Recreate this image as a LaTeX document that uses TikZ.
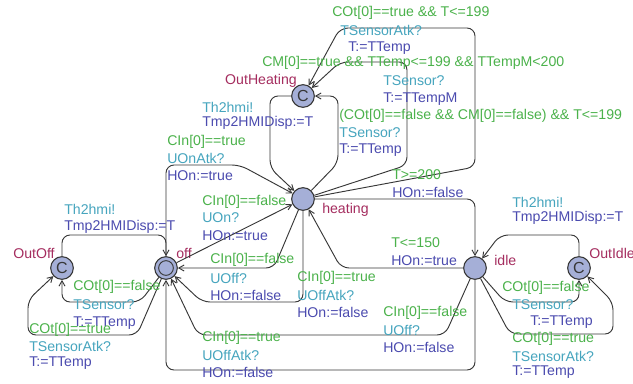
\documentclass[tikz,border=0pt]{standalone}
\usepackage{fontspec}
\setmainfont{Liberation Sans}
\usetikzlibrary{arrows.meta}
\definecolor{guardc}{RGB}{75,178,75}
\definecolor{syncc}{RGB}{70,165,190}
\definecolor{updc}{RGB}{75,75,175}
\definecolor{namec}{RGB}{165,45,95}
\definecolor{locfill}{RGB}{165,175,215}
\definecolor{edgec}{RGB}{55,55,55}
\begin{document}
\begin{tikzpicture}[x=0.75pt,y=-0.75pt,
  every node/.style={font=\fontsize{10.6}{12}\selectfont},
  loc/.style={circle,draw=edgec,fill=locfill,line width=0.8pt,minimum size=17pt,inner sep=0pt},
  comm/.style={loc,font=\fontsize{12}{12}\selectfont,text=edgec},
  guard/.style={anchor=west,inner sep=0pt,text=guardc},
  sync/.style={anchor=west,inner sep=0pt,text=syncc},
  upd/.style={anchor=west,inner sep=0pt,text=updc},
  lname/.style={anchor=west,inner sep=0pt,text=namec},
  edge/.style={draw=edgec,line width=0.7pt,rounded corners=6pt,
    -{Straight Barb[length=4pt,width=4.5pt]}}]

\useasboundingbox[fill=white] (0,0) rectangle (633,383);

% locations
\node[comm] (outheat) at (303,96) {C};
\node[loc] (heating) at (303,199) {};
\node[loc] (off) at (166,268) {};
\node[circle,draw=edgec,line width=0.7pt,minimum size=11pt,inner sep=0pt] (offin) at (off) {};
\node[comm] (outoff) at (62,268) {C};
\node[loc] (idle) at (475,268) {};
\node[comm] (outidle) at (579,268) {C};

% location names
\node[lname,anchor=east] (nOutHeating) at (297,81) {OutHeating};
\node[lname] (nHeating) at (322,210) {heating};
\node[lname] (nOff) at (176,253) {off};
\node[lname] (nOutOff) at (13,253) {OutOff};
\node[lname] (nIdle) at (494,260) {idle};
\node[lname] (nOutIdle) at (589,253) {OutIdle};

% edges around OutHeating
\draw[edge] (outheat.west) -- (270,96) -- (270,168) -- (heating);
\draw[edge] (heating) -- (338,163) -- (338,96) -- (outheat.east);
\draw[edge] (heating) -- (407,165) -- (407,62) -- (340,62) -- (outheat);
\draw[edge] (heating) -- (475,167) -- (475,28) -- (340,28) -- (outheat);

% edges between off and heating
\draw[edge] (off) -- (166,165) -- (240,165) -- (heating);
\draw[edge] (off) -- (heating);
\draw[edge] (heating) -- (274,268) -- (off);
\draw[edge] (heating) -- (303,302) -- (202,302) -- (off);

% edges between heating and idle
\draw[edge] (heating) -- (475,199) -- (idle);
\draw[edge] (idle) -- (341,268) -- (heating);

% edges from idle to off
\draw[edge] (idle) -- (445,335) -- (198,335) -- (off);
\draw[edge] (idle) -- (475,370) -- (166,370) -- (off);

% edges around OutIdle
\draw[edge] (outidle) -- (579,235) -- (500,235) -- (idle);
\draw[edge] (idle) -- (505,302) -- (579,302) -- (outidle);
\draw[edge] (idle) -- (510,334) -- (613,334) -- (613,302) -- (outidle);

% edges around OutOff
\draw[edge] (outoff) -- (62,235) -- (166,235) -- (off);
\draw[edge] (off) -- (140,302) -- (62,302) -- (outoff);
\draw[edge] (off) -- (137,335) -- (28,335) -- (28,300) -- (outoff);

% labels: heating -> OutHeating
\node[guard] (g4) at (332,13) {COt[0]==true \&\& T<=199};
\node[sync] (s4) at (340,30) {TSensorAtk?};
\node[upd] (u4) at (348,48) {T:=TTemp};
\node[guard] (g3) at (262,63) {CM[0]==true \&\& TTemp<=199 \&\& TTempM<200};
\node[sync] (s3) at (383,81) {TSensor?};
\node[upd] (u3) at (383,99) {T:=TTempM};
\node[guard] (g2) at (339,116) {(COt[0]==false \&\& CM[0]==false) \&\& T<=199};
\node[sync] (s2) at (339,133) {TSensor?};
\node[upd] (u2) at (339,150) {T:=TTemp};
% OutHeating -> heating
\node[sync] (s1) at (202,107) {Th2hmi!};
\node[upd] (u1) at (202,123) {Tmp2HMIDisp:=T};

% off <-> heating
\node[guard] (g5) at (167,142) {CIn[0]==true};
\node[sync] (s5) at (167,158) {UOnAtk?};
\node[upd] (u5) at (167,176) {HOn:=true};
\node[guard] (g6) at (202,202) {CIn[0]==false};
\node[sync] (s6) at (202,218) {UOn?};
\node[upd] (u6) at (202,236) {HOn:=true};
\node[guard] (g7) at (210,260) {CIn[0]==false};
\node[sync] (s7) at (210,278) {UOff?};
\node[upd] (u7) at (210,295) {HOn:=false};
\node[guard] (g8) at (297,278) {CIn[0]==true};
\node[sync] (s8) at (297,295) {UOffAtk?};
\node[upd] (u8) at (297,312) {HOn:=false};

% heating <-> idle
\node[guard] (g9) at (392,175) {T>=200};
\node[upd] (u9) at (392,192) {HOn:=false};
\node[guard] (g10) at (391,243) {T<=150};
\node[upd] (u10) at (391,261) {HOn:=true};

% idle -> off
\node[guard] (g11) at (383,313) {CIn[0]==false};
\node[sync] (s11) at (383,330) {UOff?};
\node[upd] (u11) at (383,347) {HOn:=false};
\node[guard] (g12) at (202,338) {CIn[0]==true};
\node[sync] (s12) at (202,355) {UOffAtk?};
\node[upd] (u12) at (202,372) {HOn:=false};

% OutIdle
\node[sync] (s13) at (512,202) {Th2hmi!};
\node[upd] (u13) at (512,218) {Tmp2HMIDisp:=T};
\node[guard] (g14) at (502,288) {COt[0]==false};
\node[sync] (s14) at (512,305) {TSensor?};
\node[upd] (u14) at (530,322) {T:=TTemp};
\node[guard] (g15) at (512,339) {COt[0]==true};
\node[sync] (s15) at (512,356) {TSensorAtk?};
\node[upd] (u15) at (512,372) {T:=TTemp};

% OutOff
\node[sync] (s16) at (64,209) {Th2hmi!};
\node[upd] (u16) at (64,227) {Tmp2HMIDisp:=T};
\node[guard] (g17) at (73,287) {COt[0]==false};
\node[sync] (s17) at (73,305) {TSensor?};
\node[upd] (u17) at (73,323) {T:=TTemp};
\node[guard] (g18) at (29,330) {COt[0]==true};
\node[sync] (s18) at (29,346) {TSensorAtk?};
\node[upd] (u18) at (29,363) {T:=TTemp};
\end{tikzpicture}
\end{document}
